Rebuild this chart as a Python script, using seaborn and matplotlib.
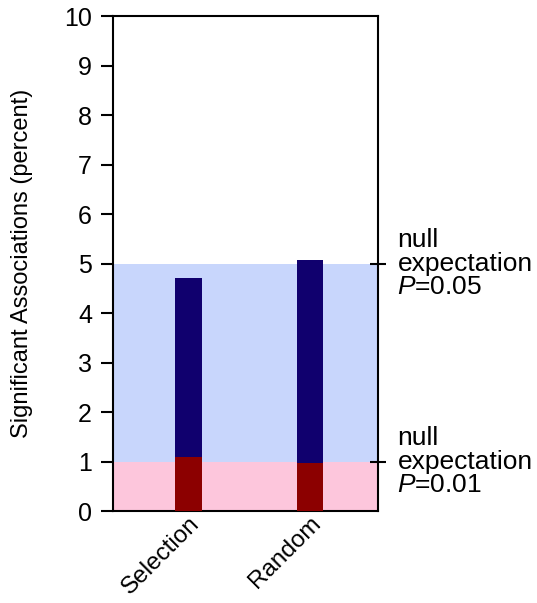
import numpy as np
import matplotlib
matplotlib.use("Agg")
import matplotlib.pyplot as plt
import seaborn as sns

# values (percent)
groups = ["Selection", "Random"]
total_sig = [4.72, 5.07]     # P<0.05 associations
strong_sig = [1.10, 0.98]    # P<0.01 associations
null_levels = [5, 1]
null_labels = ["null\nexpectation\n$\\it{P}$=0.05", "null\nexpectation\n$\\it{P}$=0.01"]

sns.set_style("white")
plt.rcParams['font.family'] = ['Liberation Sans', 'DejaVu Sans']
plt.rcParams['text.color'] = 'black'
plt.rcParams['axes.labelcolor'] = 'black'
plt.rcParams['xtick.color'] = 'black'
plt.rcParams['ytick.color'] = 'black'
plt.rcParams['mathtext.fontset'] = 'custom'
plt.rcParams['mathtext.it'] = 'Liberation Sans:italic'
plt.rcParams['mathtext.rm'] = 'Liberation Sans'

fig = plt.figure(figsize=(5.37, 6.03), dpi=100)
ax = fig.add_axes([0.210, 0.152, 0.494, 0.821])

# shaded null expectation bands
ax.axhspan(0, 1, color='#fdc6dc', zorder=0, lw=0)
ax.axhspan(1, 5, color='#c8d6fc', zorder=0, lw=0)

sns.barplot(x=groups, y=total_sig, color='#10006e', width=0.22, ax=ax,
            saturation=1, zorder=2, linewidth=0)
sns.barplot(x=groups, y=strong_sig, color='#8c0000', width=0.22, ax=ax,
            saturation=1, zorder=3, linewidth=0)

ax.set_xlim(-0.62, 1.56)
ax.set_ylim(0, 10)
ax.set_yticks(range(0, 11))
ax.tick_params(axis='y', direction='out', length=9, width=1.5, labelsize=18,
               left=True, pad=6)
ax.tick_params(axis='x', length=0, labelsize=17.5, pad=1)
for lab in ax.get_xticklabels():
    lab.set_rotation(45)
    lab.set_ha('right')
    lab.set_rotation_mode('anchor')
ax.set_ylabel("Significant Associations (percent)", fontsize=17)
ax.yaxis.set_label_coords(-0.30, 0.5)
ax.set_xlabel("")

for s in ax.spines.values():
    s.set_color('black')
    s.set_linewidth(1.5)
    s.set_visible(True)

# right-side ticks for null expectations
ax2 = ax.twinx()
ax2.set_ylim(0, 10)
ax2.set_yticks(null_levels)
ax2.set_yticklabels([])
ax2.tick_params(axis='y', direction='inout', length=12, width=1.5, right=True)
for lvl, txt in zip(null_levels, null_labels):
    ax2.annotate(txt, xy=(1, lvl), xycoords=('axes fraction', 'data'),
                 xytext=(14, 0), textcoords='offset points',
                 ha='left', va='center', fontsize=19, linespacing=0.98)
for s in ax2.spines.values():
    s.set_visible(False)

fig.savefig("out.png", dpi=100)
